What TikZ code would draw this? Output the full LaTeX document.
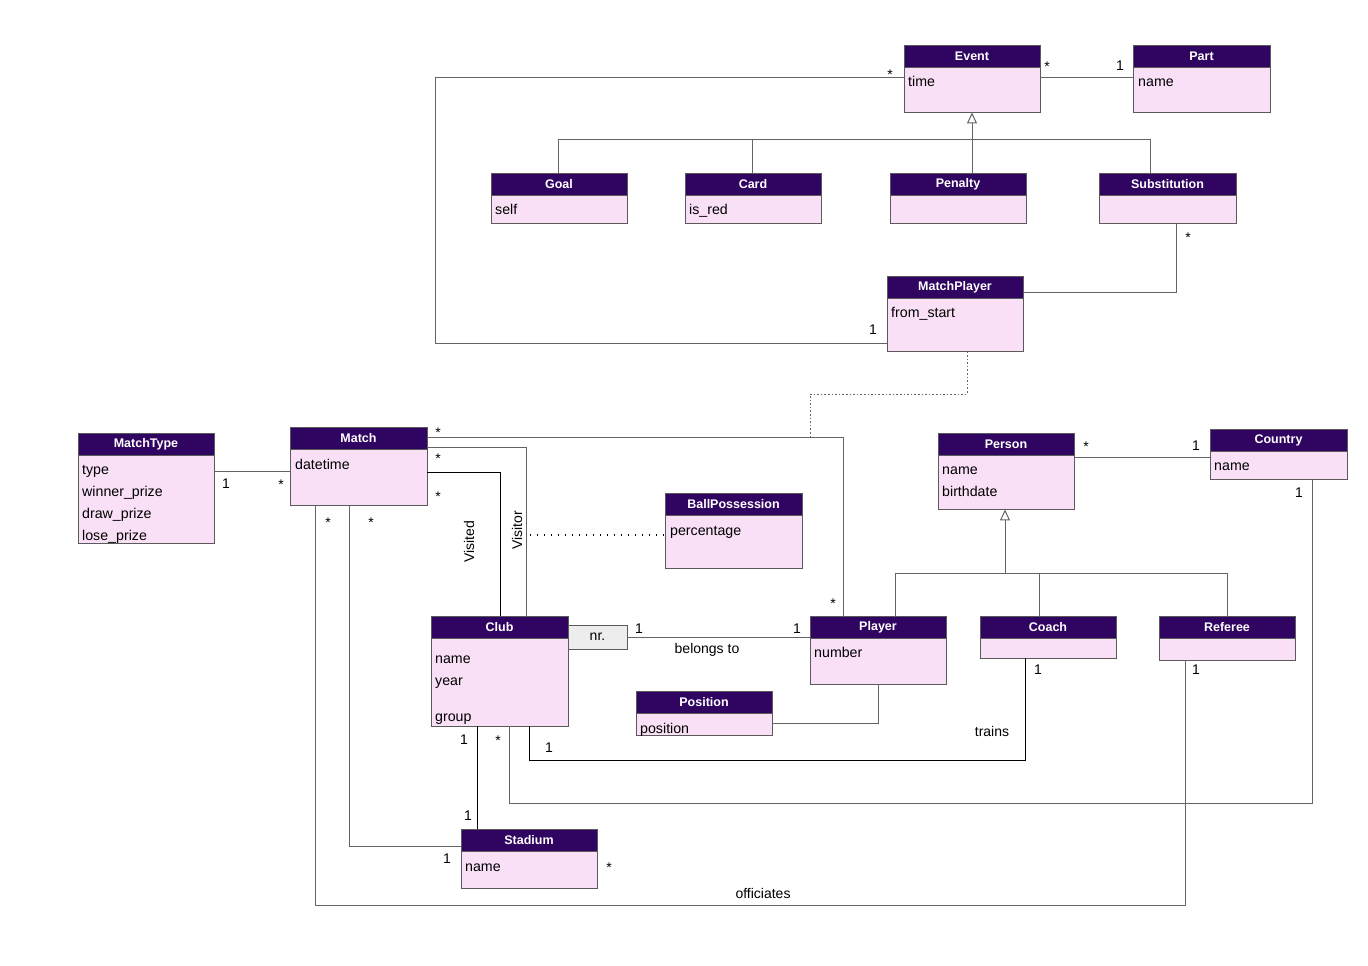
\documentclass[tikz,border=0pt]{standalone}
\usepackage{fontspec}
\setmainfont{Liberation Sans}
\usetikzlibrary{arrows.meta,fit}
\definecolor{hdr}{HTML}{300461}
\definecolor{bodyfill}{HTML}{F9E0F6}
\definecolor{edge}{HTML}{5A5A5A}
\definecolor{wire}{HTML}{646464}
\definecolor{qual}{HTML}{EDEDED}

% class box: id, x1, y1, x2, y2, title (header band is 22 units high)
\newcommand{\umlclass}[6]{%
  \node[classbody, fit={(#2,#3) (#4,#5)}] (#1) {};
  \node[classhead, fit={(#2,#3) (#4,#3+22)}] (#1-head) {};
  \node[classtitle] (#1-title) at (#1-head.center) {#6};
}

\begin{document}
\begin{tikzpicture}[x=1pt,y=-1pt,
  classbody/.style={draw=edge, fill=bodyfill, inner sep=0pt, line width=0.9pt},
  classhead/.style={draw=edge, fill=hdr, inner sep=0pt, line width=0.9pt},
  classtitle/.style={inner sep=0pt, text=white, font=\fontsize{12.5}{14}\selectfont\bfseries},
  attr/.style={anchor=base west, yshift=-5pt, inner sep=0pt, font=\fontsize{14.2}{16}\selectfont},
  lbl/.style={inner sep=0pt, font=\fontsize{14}{16}\selectfont},
  star/.style={lbl, yshift=-3pt},
  assoc/.style={draw=wire, line width=1pt},
  gen/.style={assoc, -{Triangle[open, width=10pt, length=11pt]}},
]
\useasboundingbox[fill=white] (0,0) rectangle (1368,966);

% ---------- classes ----------
\umlclass{event}{904}{45}{1040}{112}{Event}
\umlclass{part}{1133}{45}{1270}{112}{Part}
\umlclass{goal}{491}{173}{627}{223}{Goal}
\umlclass{card}{685}{173}{821}{223}{Card}
\umlclass{penalty}{890}{173}{1026}{223}{Penalty}
\umlclass{substitution}{1099}{173}{1236}{223}{Substitution}
\umlclass{matchplayer}{887}{276}{1023}{351}{MatchPlayer}
\umlclass{matchtype}{78}{433}{214}{543}{MatchType}
\umlclass{match}{290}{427}{427}{505}{Match}
\umlclass{ballpossession}{665}{493}{802}{568}{BallPossession}
\umlclass{person}{938}{433}{1074}{509}{Person}
\umlclass{country}{1210}{429}{1347}{479}{Country}
\umlclass{club}{431}{616}{568}{726}{Club}
\umlclass{player}{810}{616}{946}{684}{Player}
\umlclass{coach}{980}{616}{1116}{658}{Coach}
\umlclass{referee}{1159}{616}{1295}{660}{Referee}
\umlclass{position}{636}{691}{772}{735}{Position}
\umlclass{stadium}{461}{829}{597}{888}{Stadium}

% qualifier on Club
\node[draw=edge, fill=qual, line width=0.9pt, inner sep=0pt, fit={(568,625) (627,649)}] (nr) {};
\node[lbl] (nr-text) at (nr.center) {nr.};

% ---------- attributes ----------
\node[attr] (a-event) at (908,82) {time};
\node[attr] (a-part) at (1138,82) {name};
\node[attr] (a-goal) at (495,209) {self};
\node[attr] (a-card) at (689,209) {is\_red};
\node[attr] (a-mp) at (891,312) {from\_start};
\node[attr] (a-mt1) at (82,469) {type};
\node[attr] (a-mt2) at (82,491) {winner\_prize};
\node[attr] (a-mt3) at (82,513) {draw\_prize};
\node[attr] (a-mt4) at (82,535) {lose\_prize};
\node[attr] (a-match) at (295,464) {datetime};
\node[attr] (a-bp) at (670,530) {percentage};
\node[attr] (a-person1) at (942,469) {name};
\node[attr] (a-person2) at (942,491) {birthdate};
\node[attr] (a-country) at (1214,465) {name};
\node[attr] (a-club1) at (435,658) {name};
\node[attr] (a-club2) at (435,680) {year};
\node[attr] (a-club3) at (435,716) {group};
\node[attr] (a-player) at (814,652) {number};
\node[attr] (a-position) at (640,728) {position};
\node[attr] (a-stadium) at (465,866) {name};

% ---------- connectors ----------
% Event -- Part
\draw[assoc] (event.east |- 0,78) -- (part.west |- 0,78);
% Event -- MatchPlayer
\draw[assoc] (event.west |- 0,78) -| (435,343) -- (matchplayer.west |- 0,343);
% Event specialisations
\draw[assoc] (goal.north -| 558,0) |- (1150,139) -- (substitution.north -| 1150,0);
\draw[assoc] (card.north -| 752,0) -- (752,139);
\draw[gen] (penalty.north -| event.south) -- (event.south);
% Substitution -- MatchPlayer
\draw[assoc] (substitution.south -| 1176,0) |- (matchplayer.east |- 0,292);
% association class MatchPlayer on Match -- Player
\coordinate (mpjoin) at (810,437);
\draw[draw=wire, line width=1pt, dash pattern=on 1.6pt off 2pt]
  (matchplayer.south -| 967,0) |- (810,394) -- (mpjoin);
% Match -- Player
\draw[assoc] (match.east |- 0,437) -| (player.north -| 843,0);
% Visitor / Visited
\draw[assoc] (match.east |- 0,447) -| (club.north -| 526,0);
\draw[assoc, draw=black] (match.east |- 0,472) -| (club.north -| 500,0);
% BallPossession association class
\coordinate (visitormid) at (526,535);
\draw[draw=black, line width=1.1pt, dash pattern=on 1.2pt off 5.8pt]
  (visitormid) ++(4,0) -- (ballpossession.west |- 0,535);
% MatchType -- Match
\draw[assoc] (matchtype.east |- 0,471) -- (match.west |- 0,471);
% Match -- Stadium
\draw[assoc] (match.south -| 349,0) |- (stadium.west |- 0,846);
% officiates
\draw[assoc] (match.south -| 315,0) |- (1185,905) -- (referee.south -| 1185,0);
% Club -- Stadium
\draw[assoc, draw=black] (club.south -| 477,0) -- (stadium.north -| 477,0);
% Club -- Country
\draw[assoc] (club.south -| 509,0) |- (1312,803) -- (country.south -| 1312,0);
% trains
\draw[assoc, draw=black] (club.south -| 529,0) |- (1025,760) -- (coach.south -| 1025,0);
% belongs to
\draw[assoc] (nr.east |- 0,637) -- (player.west |- 0,637);
% Position -- Player
\draw[assoc] (position.east |- 0,723) -| (player.south -| 878,0);
% Person specialisations
\draw[assoc] (player.north -| 895,0) |- (1227,573) -- (referee.north -| 1227,0);
\draw[assoc] (coach.north -| 1039,0) -- (1039,573);
\draw[gen] (1005,573) -- (person.south -| 1005,0);
% Person -- Country
\draw[assoc] (person.east |- 0,457) -- (country.west |- 0,457);

% ---------- multiplicities and role names ----------
\node[star] (m1) at (1047,64) {*};
\node[lbl] (m2) at (1120,66) {1};
\node[star] (m3) at (890,72) {*};
\node[lbl] (m4) at (873,330) {1};
\node[star] (m5) at (1188,235) {*};
\node[star] (m6) at (438,430) {*};
\node[star] (m7) at (438,456) {*};
\node[star] (m8) at (438,494) {*};
\node[star] (m9) at (833,601) {*};
\node[lbl] (m10) at (226,484) {1};
\node[star] (m11) at (281,482) {*};
\node[star] (m12) at (328,520) {*};
\node[star] (m13) at (371,520) {*};
\node[lbl] (m14) at (464,740) {1};
\node[star] (m15) at (498,738) {*};
\node[lbl] (m16) at (549,748) {1};
\node[lbl] (m17) at (468,816) {1};
\node[lbl] (m18) at (447,859) {1};
\node[star] (m19) at (609,865) {*};
\node[lbl] (m20) at (639,629) {1};
\node[lbl] (m21) at (797,629) {1};
\node[lbl] (m22) at (1038,670) {1};
\node[lbl] (m23) at (1196,670) {1};
\node[star] (m24) at (1086,444) {*};
\node[lbl] (m25) at (1196,446) {1};
\node[lbl] (m26) at (1299,493) {1};

\node[lbl] (t-belongs) at (707,650) {belongs to};
\node[lbl] (t-trains) at (992,731) {trains};
\node[lbl] (t-officiates) at (763,893) {officiates};
\node[lbl, rotate=90] (t-visited) at (469,542) {Visited};
\node[lbl, rotate=90] (t-visitor) at (517,530) {Visitor};

\end{tikzpicture}
\end{document}
